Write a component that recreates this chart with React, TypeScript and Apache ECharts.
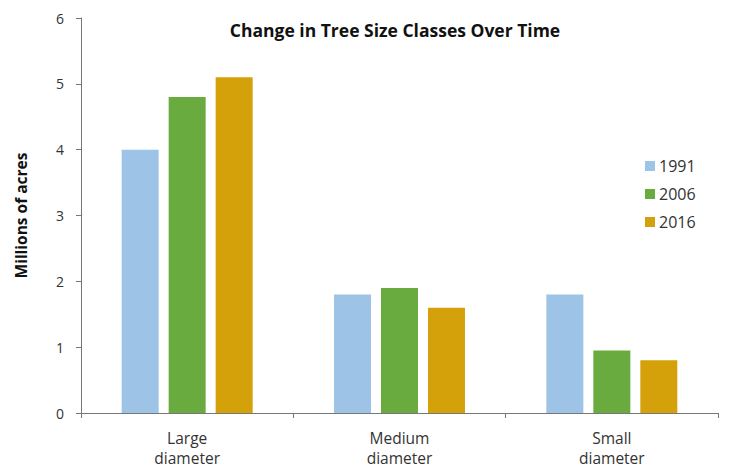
import React, { useEffect, useRef } from "react";
import * as echarts from "echarts";

const categories = ["Large\ndiameter", "Medium\ndiameter", "Small\ndiameter"];
const years = ["1991", "2006", "2016"];
const values1991 = [4.0, 1.8, 1.8];
const values2006 = [4.8, 1.9, 0.95];
const values2016 = [5.1, 1.6, 0.8];
const colors = ["#9dc3e6", "#6aab3f", "#d4a10a"];

export default function App() {
  const ref = useRef<HTMLDivElement>(null);
  useEffect(() => {
    const chart = echarts.init(ref.current!, null, { renderer: "svg" });
    const seriesData = [values1991, values2006, values2016];
    chart.setOption({
      animation: false,
      backgroundColor: "#ffffff",
      textStyle: { fontFamily: "Open Sans" },
      title: {
        text: "Change in Tree Size Classes Over Time",
        left: 390,
        textAlign: "center",
        top: 16,
        textStyle: { fontSize: 17.5, fontWeight: "bold", color: "#111", fontFamily: "Open Sans" },
      },
      legend: {
        orient: "vertical",
        left: 640,
        top: 153,
        itemWidth: 10,
        itemHeight: 10,
        itemGap: 12,
        icon: "rect",
        data: years,
        textStyle: { fontSize: 16, color: "#333", fontFamily: "Open Sans", padding: [0, 0, 0, -1] },
      },
      grid: { left: 81, right: 12, top: 18, bottom: 53 },
      xAxis: {
        type: "category",
        data: categories,
        axisLine: { lineStyle: { color: "#777" } },
        axisTick: { show: true, length: 5, lineStyle: { color: "#777" } },
        axisLabel: { fontSize: 15.5, color: "#333", lineHeight: 20, margin: 15, fontFamily: "Open Sans" },
      },
      yAxis: {
        type: "value",
        min: 0,
        max: 6,
        interval: 1,
        name: "Millions of acres",
        nameLocation: "middle",
        nameGap: 52,
        nameTextStyle: { fontSize: 15.5, fontWeight: "bold", color: "#111", fontFamily: "Open Sans" },
        axisLine: { show: true, lineStyle: { color: "#777" } },
        axisTick: { show: true, length: 5, lineStyle: { color: "#777" } },
        axisLabel: { fontSize: 14, color: "#333", margin: 17, fontFamily: "Open Sans" },
        splitLine: { show: false },
      },
      series: years.map((y, i) => ({
        name: y,
        type: "bar",
        data: seriesData[i],
        barWidth: 37,
        barGap: "27%",
        itemStyle: { color: colors[i] },
      })),
    });
    return () => chart.dispose();
  }, []);
  return <div ref={ref} style={{ width: 730, height: 468, position: "absolute", left: 0, top: 0 }} />;
}
